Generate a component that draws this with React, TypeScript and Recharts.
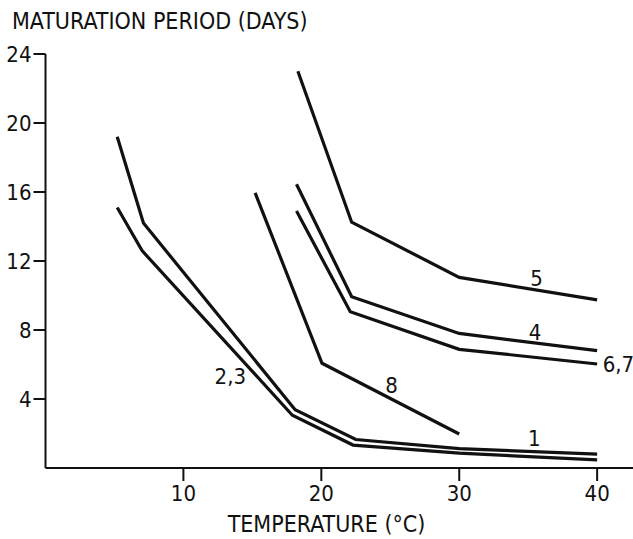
import { LineChart, Line, XAxis, YAxis, ReferenceDot } from "recharts";

const FONT = "'DejaVu Sans Condensed', 'Liberation Sans Narrow', 'DejaVu Sans', sans-serif";
const INK = "#111";

// tick labels
const xTicks = [10, 20, 30, 40];
const yTicks = [4, 8, 12, 16, 20, 24];

// curves: temperature (°C) vs maturation period (days)
const temp5 = [18.3, 22.2, 30, 40];
const days5 = [23.0, 14.25, 11.05, 9.75];

const temp4 = [18.2, 22.2, 30, 40];
const days4 = [16.45, 9.93, 7.8, 6.8];

const temp67 = [18.2, 22.1, 30, 40];
const days67 = [14.9, 9.06, 6.88, 6.03];

const temp8 = [15.2, 20.05, 30];
const days8 = [15.95, 6.07, 1.97];

const temp23 = [5.2, 7.1, 18.1, 22.5, 30, 40];
const days23 = [19.2, 14.2, 3.38, 1.65, 1.12, 0.8];

const temp1 = [5.2, 7.0, 17.9, 22.3, 30, 40];
const days1 = [15.1, 12.6, 3.06, 1.33, 0.86, 0.47];

// curve labels
const labelText = ["5", "4", "6,7", "8", "1", "2,3"];
const labelTemp = [35.6, 35.5, 40.4, 25.1, 35.45, 13.4];
const labelDays = [11.0, 7.9, 6.0, 4.8, 1.72, 5.3];
const labelAnchor = ["middle", "middle", "start", "middle", "middle", "middle"];

const toPoints = (t: number[], d: number[]) => t.map((temp, i) => ({ temp, days: d[i] }));

const series = [
  { id: "5", data: toPoints(temp5, days5) },
  { id: "4", data: toPoints(temp4, days4) },
  { id: "6,7", data: toPoints(temp67, days67) },
  { id: "8", data: toPoints(temp8, days8) },
  { id: "2,3", data: toPoints(temp23, days23) },
  { id: "1", data: toPoints(temp1, days1) },
];

export default function App() {
  return (
    <div style={{ position: "absolute", left: 0, top: 0, background: "#fff" }}>
      <LineChart width={633} height={539} margin={{ top: 54, right: 0, bottom: 0, left: 0 }}>
        <XAxis
          type="number"
          dataKey="temp"
          domain={[0, 42.6]}
          ticks={xTicks}
          allowDataOverflow
          height={71}
          tickSize={13}
          tickMargin={4}
          axisLine={{ stroke: INK, strokeWidth: 2 }}
          tickLine={{ stroke: INK, strokeWidth: 2 }}
          tick={{ fill: INK, fontSize: 22, fontFamily: FONT }}
          label={{
            content: (p: any) => (
              <text
                x={p.viewBox.x + 281}
                y={p.viewBox.y + 64}
                textAnchor="middle"
                fill={INK}
                fontSize={23}
                fontFamily={FONT}
              >
                TEMPERATURE (°C)
              </text>
            ),
          }}
        />
        <YAxis
          type="number"
          dataKey="days"
          domain={[0, 24]}
          ticks={yTicks}
          allowDataOverflow
          width={45.5}
          tickSize={12}
          tickMargin={2}
          axisLine={{ stroke: INK, strokeWidth: 2 }}
          tickLine={{ stroke: INK, strokeWidth: 2 }}
          tick={{ fill: INK, fontSize: 22, fontFamily: FONT }}
          label={{
            content: () => (
              <text x={12} y={29} textAnchor="start" fill={INK} fontSize={23} fontFamily={FONT}>
                MATURATION PERIOD (DAYS)
              </text>
            ),
          }}
        />
        {series.map((s) => (
          <Line
            key={s.id}
            data={s.data}
            dataKey="days"
            type="linear"
            stroke={INK}
            strokeWidth={3.2}
            dot={false}
            activeDot={false}
            isAnimationActive={false}
          />
        ))}
        {labelText.map((t, i) => (
          <ReferenceDot
            key={t}
            x={labelTemp[i]}
            y={labelDays[i]}
            r={1}
            shape={(p: any) => (
              <text
                x={p.cx}
                y={p.cy}
                dy="0.36em"
                textAnchor={labelAnchor[i]}
                fill={INK}
                fontSize={22}
                fontFamily={FONT}
              >
                {t}
              </text>
            )}
          />
        ))}
      </LineChart>
    </div>
  );
}
